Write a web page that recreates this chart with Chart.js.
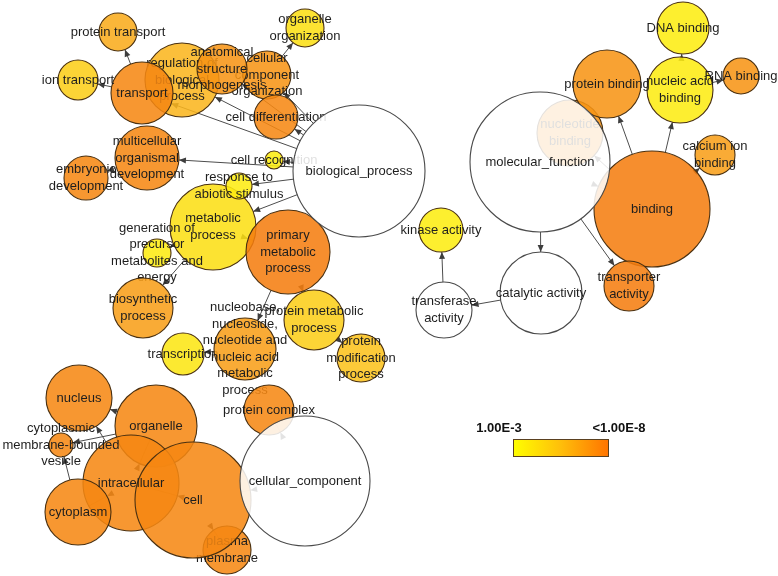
<!DOCTYPE html>
<html><head><meta charset="utf-8">
<script src="https://cdn.jsdelivr.net/npm/chart.js@4/dist/chart.umd.min.js"></script>
<style>html,body{margin:0;padding:0;background:#fff;}canvas{display:block}</style>
</head><body>
<canvas id="c" width="778" height="576"></canvas>
<script>
// GO terms (nodes)
const nodeLabels = [
  "biological_process","protein transport","ion transport","transport",
  "regulation of\nbiological\nprocess","anatomical\nstructure\nmorphogenesis","cellular\ncomponent\norganization",
  "organelle\norganization","cell differentiation","multicellular\norganismal\ndevelopment","embryonic\ndevelopment",
  "cell recognition","response to\nabiotic stimulus","metabolic\nprocess","generation of\nprecursor\nmetabolites and\nenergy",
  "primary\nmetabolic\nprocess","biosynthetic\nprocess","transcription",
  "nucleobase,\nnucleoside,\nnucleotide and\nnucleic acid\nmetabolic\nprocess",
  "protein metabolic\nprocess","protein\nmodification\nprocess",
  "cellular_component","protein complex","nucleus","organelle","cytoplasmic\nmembrane-bounded\nvesicle",
  "intracellular","cell","cytoplasm","plasma\nmembrane",
  "molecular_function","nucleotide\nbinding","protein binding","DNA binding","nucleic acid\nbinding","RNA binding",
  "calcium ion\nbinding","binding","transporter\nactivity","kinase activity","transferase\nactivity","catalytic activity"
];
// layout coordinates of the network (x, y)
const nodeX = [359,118,78,142,182,222,267,305,276,147,86,274,239,213,157,288,143,183,245,314,361,
               305,269,79,156,61,131,193,78,227,
               540,570,607,683,680,741,715,652,629,441,444,541];
const nodeY = [171,32,80,93,80,69,75,28,117,158,178,160,186,227,253,252,308,354,349,320,358,
               481,410,398,426,445,483,500,512,550,
               162,133,84,28,90,76,155,209,286,230,310,293];
// node size (number of genes, shown as radius)
const nodeSize = [66,19,20,31,37,25,24,19,22,32,22,9,13,43,14,42,30,21,31,30,24,
                  65,25,33,41,12,48,58,33,24,
                  70,33,34,26,33,18,20,58,25,22,28,41];
// log10 of corrected p-value (null = not significant, white)
const nodeLogP = [null,-6,-4.5,-7.5,-5.5,-7,-7,-3.8,-7.5,-7.5,-7.5,-3.2,-3.3,-3.8,-3.3,-8,-6.5,-3.5,-6.5,-4.5,-5,
                  null,-7.5,-7.5,-7.5,-7.5,-7.5,-7.5,-7.5,-7.5,
                  null,-7,-7,-3.2,-3.3,-7,-6.5,-8,-8,-3.2,null,null];
// drawing layer (0 = bottom)
const nodeLayer = [3,1,1,1,0,1,0,1,1,1,0,1,1,0,1,1,2,0,1,1,1,
                   3,2,1,1,1,1,1,1,0,
                   3,0,1,1,1,1,1,1,1,1,3,3];
// edges: parent -> child
const edgeFrom = [0,0,0,0,0,0,0,0,0,3,3,6,9,13,13,13,15,15,18,19,
                  21,21,27,26,24,26,24,28,26,27,
                  30,30,30,41,40,37,37,37,37,34,34];
const edgeTo   = [3,4,5,6,8,9,11,12,13,1,2,7,10,15,14,16,18,19,17,20,
                  27,22,26,24,23,23,25,25,28,29,
                  37,41,38,40,39,32,34,36,31,33,35];
// colour legend tick labels
const legendTicks = ["1.00E-3","<1.00E-8"];
const legendRange = [-3,-8];

const stops = [[0,[253,242,15]],[0.5,[250,182,30]],[1,[245,125,15]]];
function colAt(t){
  t=Math.max(0,Math.min(1,t));
  for(let i=1;i<stops.length;i++){
    if(t<=stops[i][0]){
      const a=stops[i-1],b=stops[i];const f=(t-a[0])/(b[0]-a[0]);
      return a[1].map((v,k)=>Math.round(v+(b[1][k]-v)*f));
    }
  }
  return stops[stops.length-1][1];
}
function nodeFill(i){
  if(nodeLogP[i]===null) return 'rgba(255,255,255,0.86)';
  const t=(nodeLogP[i]-legendRange[0])/(legendRange[1]-legendRange[0]);
  const c=colAt(t);return `rgba(${c[0]},${c[1]},${c[2]},0.87)`;
}
const layers=[0,1,2,3];
const datasets=layers.map(L=>{
  const idx=nodeLabels.map((_,i)=>i).filter(i=>nodeLayer[i]===L);
  return {
    label:'layer'+L, nodeIdx:idx, order:3-L, clip:false,
    data:idx.map(i=>({x:nodeX[i],y:nodeY[i],r:nodeSize[i]})),
    backgroundColor:idx.map(nodeFill),
    borderColor:idx.map(i=>nodeLogP[i]===null?'#4a4a4a':'#4a3010'),
    borderWidth:1.1
  };
});

const FONT='13px "Liberation Sans", Arial, sans-serif';
const netPlugin={
  id:'net',
  beforeDatasetsDraw(chart){
    const ctx=chart.ctx,sx=chart.scales.x,sy=chart.scales.y;
    ctx.save();ctx.strokeStyle='#4d4d4d';ctx.fillStyle='#3d3d3d';ctx.lineWidth=1;
    for(let e=0;e<edgeFrom.length;e++){
      const a=edgeFrom[e],b=edgeTo[e];
      const x1=sx.getPixelForValue(nodeX[a]),y1=sy.getPixelForValue(nodeY[a]);
      const x2=sx.getPixelForValue(nodeX[b]),y2=sy.getPixelForValue(nodeY[b]);
      const dx=x2-x1,dy=y2-y1,d=Math.hypot(dx,dy),ux=dx/d,uy=dy/d;
      const sxp=x1+ux*nodeSize[a],syp=y1+uy*nodeSize[a];
      const ex=x2-ux*nodeSize[b],ey=y2-uy*nodeSize[b];
      ctx.beginPath();ctx.moveTo(sxp,syp);ctx.lineTo(ex,ey);ctx.stroke();
      const L=7,W=3;
      ctx.beginPath();ctx.moveTo(ex,ey);
      ctx.lineTo(ex-ux*L-uy*W,ey-uy*L+ux*W);
      ctx.lineTo(ex-ux*L+uy*W,ey-uy*L-ux*W);ctx.closePath();ctx.fill();
    }
    ctx.restore();
  },
  afterDatasetDraw(chart,args){
    const ds=chart.data.datasets[args.index];
    const ctx=chart.ctx,sx=chart.scales.x,sy=chart.scales.y;
    ctx.save();ctx.font=FONT;ctx.fillStyle='#1e1e1e';ctx.textAlign='center';ctx.textBaseline='middle';
    ds.nodeIdx.forEach(i=>{
      const lines=nodeLabels[i].split('\n');const lh=16.5;
      const cx=sx.getPixelForValue(nodeX[i]),cy=sy.getPixelForValue(nodeY[i]);
      lines.forEach((t,k)=>ctx.fillText(t,cx,cy+(k-(lines.length-1)/2)*lh));
    });
    ctx.restore();
  },
  afterDraw(chart){
    const ctx=chart.ctx;ctx.save();
    const x0=513,y0=439,w=96,h=18;
    const g=ctx.createLinearGradient(x0,0,x0+w,0);
    g.addColorStop(0,'rgb(255,255,0)');g.addColorStop(0.5,'rgb(255,190,10)');g.addColorStop(1,'rgb(255,115,0)');
    ctx.fillStyle=g;ctx.fillRect(x0,y0,w,h);
    ctx.strokeStyle='#5a4020';ctx.lineWidth=1;ctx.strokeRect(x0+0.5,y0+0.5,w-1,h-1);
    ctx.font='bold 13px "Liberation Sans", Arial, sans-serif';ctx.fillStyle='#111';
    ctx.textBaseline='middle';ctx.textAlign='center';
    ctx.fillText(legendTicks[0],499,428);ctx.fillText(legendTicks[1],619,428);
    ctx.restore();
  }
};

new Chart(document.getElementById('c'),{
  type:'bubble',
  data:{datasets},
  options:{
    responsive:false,animation:false,events:[],
    layout:{padding:0,autoPadding:false},
    plugins:{legend:{display:false},tooltip:{enabled:false}},
    scales:{
      x:{type:'linear',display:false,min:0,max:778},
      y:{type:'linear',display:false,min:0,max:576,reverse:true}
    }
  },
  plugins:[netPlugin]
});
</script>
</body></html>
